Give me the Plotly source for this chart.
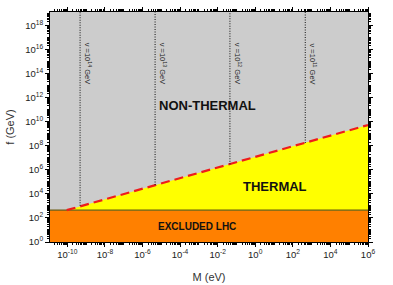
import math
import plotly.graph_objects as go

# ---- data ----
lhc_bound_f = 440.0            # GeV, top of excluded LHC band
f_min = 1.0
boundary_M = [9.3e-11, 1.0e6]  # eV, thermal / non-thermal boundary (red dashed)
boundary_f = [440.0, 5.2e9]    # GeV
vev_labels = ["v =10<sup>14</sup> GeV", "v =10<sup>13</sup> GeV",
              "v =10<sup>12</sup> GeV", "v =10<sup>11</sup> GeV"]
vev_M = [4.8e-10, 4.7e-6, 4.5e-2, 4.6e2]
vev_f_end = [1.0e3, 5.5e4, 2.9e6, 1.7e8]
vev_label_f = 6.3e14
f_top = 10 ** 19.1
x_range_log = [-10.92, 6.0]
y_range_log = [0.0, 19.1]
x_tickvals = [1e-10, 1e-8, 1e-6, 1e-4, 1e-2, 1e0, 1e2, 1e4, 1e6]
x_ticktext = ["10<sup>-10</sup>", "10<sup>-8</sup>", "10<sup>-6</sup>", "10<sup>-4</sup>",
              "10<sup>-2</sup>", "10<sup>0</sup>", "10<sup>2</sup>", "10<sup>4</sup>",
              "10<sup>6</sup>"]
y_tickvals = [10.0 ** e for e in range(0, 19, 2)]
y_ticktext = ["10<sup>%d</sup>" % e for e in range(0, 19, 2)]
x_min_ticks = [m * 10.0 ** e for e in range(-11, 7) for m in range(1, 10)]
y_min_ticks = [m * 10.0 ** e for e in range(0, 20) for m in range(1, 10)]

region_labels = ["<b>NON-THERMAL</b>", "<b>THERMAL</b>", "<b>EXCLUDED LHC</b>"]
region_M = [2.75e-3, 11.2, 7.9e-4]
region_f = [2.0e11, 3.8e4, 17.8]
region_size = [13, 13, 10]

x_lo, x_hi = 10 ** x_range_log[0], 10 ** x_range_log[1]
FONT = "Liberation Sans, Arial, sans-serif"

fig = go.Figure()

# excluded LHC band (orange)
fig.add_trace(go.Scatter(
    x=[x_lo, x_hi, x_hi, x_lo, x_lo],
    y=[f_min, f_min, lhc_bound_f, lhc_bound_f, f_min],
    fill="toself", fillcolor="#ff8000", line=dict(width=0),
    mode="lines", hoverinfo="skip", showlegend=False))

# thermal region (yellow)
fig.add_trace(go.Scatter(
    x=[boundary_M[0], boundary_M[1], boundary_M[1], boundary_M[0]],
    y=[boundary_f[0], boundary_f[1], lhc_bound_f, lhc_bound_f],
    fill="toself", fillcolor="#ffff00", line=dict(width=0),
    mode="lines", hoverinfo="skip", showlegend=False))

# boundary line on top of orange band
fig.add_trace(go.Scatter(
    x=[x_lo, x_hi], y=[lhc_bound_f, lhc_bound_f],
    mode="lines", line=dict(color="#6b5a10", width=1.2),
    hoverinfo="skip", showlegend=False))

# red dashed boundary
fig.add_trace(go.Scatter(
    x=boundary_M, y=boundary_f, mode="lines",
    line=dict(color="#ee1c1c", width=2.2, dash="9px,5px"),
    hoverinfo="skip", showlegend=False))

# dotted vev lines
for m, fe in zip(vev_M, vev_f_end):
    fig.add_trace(go.Scatter(
        x=[m, m], y=[fe, f_top], mode="lines",
        line=dict(color="#222222", width=1.1, dash="1px,1.5px"),
        hoverinfo="skip", showlegend=False))

for m, lab in zip(vev_M, vev_labels):
    fig.add_annotation(x=math.log10(m), y=math.log10(vev_label_f), xref="x", yref="y",
                       text=lab, textangle=90, showarrow=False, xshift=8,
                       font=dict(size=7.5, color="#222222", family=FONT))

# region labels
for lab, m, f, s in zip(region_labels, region_M, region_f, region_size):
    fig.add_annotation(x=math.log10(m), y=math.log10(f), text=lab, showarrow=False,
                       font=dict(size=s, color="#111111", family=FONT))

axis_common = dict(
    showgrid=False, zeroline=False, showline=True, linecolor="#000000", linewidth=1,
    mirror="allticks", ticks="outside", ticklen=4, tickwidth=1, tickcolor="#000000",
    tickfont=dict(size=9.5, color="#222222", family=FONT), automargin=False,
)

fig.update_xaxes(type="log", range=x_range_log, tickmode="array",
                 tickvals=x_tickvals, ticktext=x_ticktext,
                 minor=dict(tickmode="array", tickvals=x_min_ticks, ticks="outside",
                            ticklen=2, tickcolor="#000000"),
                 title=dict(text="M (eV)", standoff=13,
                            font=dict(size=11, color="#333333", family=FONT)),
                 **axis_common)
fig.update_yaxes(type="log", range=y_range_log, tickmode="array",
                 tickvals=y_tickvals, ticktext=y_ticktext,
                 minor=dict(tickmode="array", tickvals=y_min_ticks, ticks="outside",
                            ticklen=2, tickcolor="#000000"),
                 title=dict(text="f (GeV)", standoff=8,
                            font=dict(size=11, color="#333333", family=FONT)),
                 **axis_common)

fig.update_layout(
    width=393, height=285,
    margin=dict(l=50, r=25, t=12, b=43),
    plot_bgcolor="#cccccc", paper_bgcolor="#ffffff",
    showlegend=False,
)

fig.write_html("out.html", config={"displayModeBar": False},
               post_script="document.body.style.margin='0px';")
